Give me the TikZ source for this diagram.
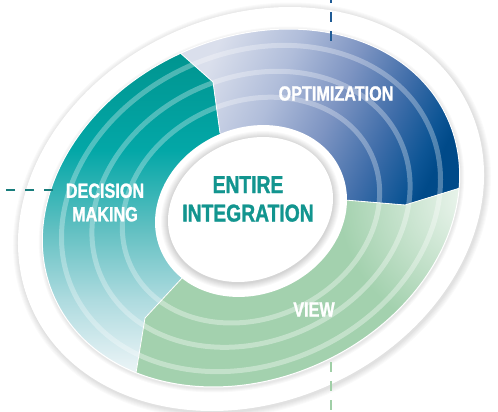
\documentclass[tikz,border=0pt]{standalone}
\usepackage{fontspec}
\newfontfamily\condf[FakeStretch=0.79, FakeBold=1.2]{Liberation Sans Bold}
\definecolor{tW}{HTML}{F3F8FA}
\definecolor{t5}{HTML}{E2F0F3}
\definecolor{t4}{HTML}{AEDBDF}
\definecolor{t3}{HTML}{62C0C2}
\definecolor{t2}{HTML}{03A7A7}
\definecolor{t1}{HTML}{00948F}
\definecolor{b1}{HTML}{DADFEC}
\definecolor{b2}{HTML}{B0BDDA}
\definecolor{b3}{HTML}{7D94C2}
\definecolor{b4}{HTML}{3F6DA9}
\definecolor{b5}{HTML}{0D5595}
\definecolor{b6}{HTML}{004A89}
\definecolor{gM}{HTML}{A3D1AE}
\definecolor{gL}{HTML}{F2F8F3}
\definecolor{txtTeal}{HTML}{12958F}
\definecolor{dBlue}{HTML}{1F5B95}
\definecolor{dTeal}{HTML}{187D7C}
\definecolor{dGreen}{HTML}{A0CFA7}
\pgfdeclareverticalshading{tealsh}{100bp}{color(0bp)=(tW); color(25bp)=(tW); color(28.6bp)=(t5); color(37.3bp)=(t4); color(47.5bp)=(t3); color(59bp)=(t2); color(73.6bp)=(t1); color(100bp)=(t1)}
\pgfdeclarehorizontalshading{bluesh}{100bp}{color(0bp)=(b1); color(26bp)=(b1); color(40bp)=(b2); color(52bp)=(b3); color(63bp)=(b4); color(71.5bp)=(b5); color(75bp)=(b6); color(100bp)=(b6)}
\begin{document}
\begin{tikzpicture}[x=1pt,y=-1pt,
  stripe/.style={draw=white, line width=5pt, draw opacity=0.3},
  sep/.style={draw=white, line width=0.8pt},
  lab/.style={text=white, font=\condf\fontsize{20.5}{23.5}\selectfont, inner sep=0pt, align=center},
  ctr/.style={text=txtTeal, font=\condf\fontsize{24.4}{28.5}\selectfont, inner sep=0pt, align=center},
  dline/.style={line width=2pt, dash pattern=on 9.5pt off 9.5pt}]
\useasboundingbox (0,0) rectangle (498,412);
\fill[white] (0,0) rectangle (498,412);
% outer white disc with soft shadow
\foreach \k in {6,5,4,3,2,1}
  \fill[black, opacity=0.02, shift={(252,210.5)}, rotate=24.8] (0,0) ellipse [x radius={240.7pt+\k pt}, y radius={192.7pt+\k pt}];
\fill[white, shift={(251,209)}, rotate=24.8] (0,0) ellipse [x radius=240.7pt, y radius=192.7pt];
% shadow round the coloured ring
\foreach \k in {4,3,2,1}
  \fill[black, opacity=0.025, shift={(251.5,209.5)}, rotate=24.8] (0,0) ellipse [x radius={216pt+\k pt}, y radius={170pt+\k pt}];
% teal sector
\begin{scope}
  \clip[shift={(251,208)}, rotate=24.8] (0,0) ellipse [x radius=216pt, y radius=170pt];
  \clip (251,208) -- (225,170) -- (220,133) -- (213,82) -- (178,51) -- (120,-10) -- (-20,-20) -- (-20,450) -- (123,450) -- (136,373) -- (145,318) -- (183,277) -- cycle;
  \shade[shading=tealsh] (20,40) rectangle (260,385);
  \draw[stripe, shift={(251,208.5)}, rotate=24.8] (0,0) ellipse [x radius=196pt, y radius=155.2pt];
  \draw[stripe, shift={(251,209.3)}, rotate=24.8] (0,0) ellipse [x radius=164.3pt, y radius=131.7pt];
  \draw[stripe, shift={(251,210.1)}, rotate=24.8] (0,0) ellipse [x radius=132.6pt, y radius=108.2pt];
\end{scope}
% blue sector
\begin{scope}
  \clip[shift={(251,208)}, rotate=24.8] (0,0) ellipse [x radius=216pt, y radius=170pt];
  \clip (251,208) -- (225,170) -- (220,133) -- (213,82) -- (178,51) -- (120,-10) -- (520,-20) -- (520,170) -- (460,188) -- (405,205) -- (345,200) -- cycle;
  \shade[shading=bluesh, shading angle=-25] (175,25) rectangle (462,210);
  \draw[stripe, shift={(251,208.5)}, rotate=24.8] (0,0) ellipse [x radius=196pt, y radius=155.2pt];
  \draw[stripe, shift={(251,209.3)}, rotate=24.8] (0,0) ellipse [x radius=164.3pt, y radius=131.7pt];
  \draw[stripe, shift={(251,210.1)}, rotate=24.8] (0,0) ellipse [x radius=132.6pt, y radius=108.2pt];
\end{scope}
% green sector
\begin{scope}
  \clip[shift={(251,208)}, rotate=24.8] (0,0) ellipse [x radius=216pt, y radius=170pt];
  \clip (251,208) -- (345,200) -- (405,205) -- (460,188) -- (520,170) -- (520,450) -- (123,450) -- (136,373) -- (145,318) -- (183,277) -- cycle;
  \fill[gM] (120,180) rectangle (480,400);
  \shade[inner color=gL, outer color=gM] (478,198) circle (140);
  \draw[stripe, draw opacity=0.35, shift={(251,208.5)}, rotate=24.8] (0,0) ellipse [x radius=196pt, y radius=155.2pt];
  \draw[stripe, draw opacity=0.35, shift={(251,209.3)}, rotate=24.8] (0,0) ellipse [x radius=164.3pt, y radius=131.7pt];
  \draw[stripe, draw opacity=0.35, shift={(251,210.1)}, rotate=24.8] (0,0) ellipse [x radius=132.6pt, y radius=108.2pt];
\end{scope}
% separators and ring edge
\begin{scope}
  \clip[shift={(251,208)}, rotate=24.8] (0,0) ellipse [x radius=216pt, y radius=170pt];
  \draw[sep] (220,133) -- (213,82) -- (178,51) -- (150,25);
  \draw[sep] (345,200) -- (405,205) -- (460,188) -- (480,182);
  \draw[sep] (183,277) -- (145,318) -- (136,373) -- (133,392);
\end{scope}
\draw[white, line width=1pt, shift={(251,208)}, rotate=24.8] (0,0) ellipse [x radius=216pt, y radius=170pt];
% hole
\fill[white, shift={(251,211)}, rotate=24.8] (0,0) ellipse [x radius=98.5pt, y radius=83pt];
% inner disc with shadow
\foreach \k in {7,6,5,4,3,2,1}
  \fill[black, opacity=0.022, shift={(250.5,210.5)}, rotate=24.8] (0,0) ellipse [x radius={85pt+\k pt}, y radius={69.5pt+\k pt}];
\fill[white, shift={(250.5,209.5)}, rotate=24.8] (0,0) ellipse [x radius=85pt, y radius=69.5pt];
% labels
\node[lab] (opt) at (336,93.5) {OPTIMIZATION};
\node[lab] (dec) at (105,202.5) {DECISION\\MAKING};
\node[lab] (view) at (314,309.5) {VIEW};
\node[ctr] (ent) at (248,199) {ENTIRE\\INTEGRATION};
% dashed leaders
\coordinate (topA) at (331,0);
\coordinate (topB) at (331,41);
\coordinate (leftA) at (3,190);
\coordinate (leftB) at (53,190);
\coordinate (botA) at (331,412);
\coordinate (botB) at (331,362);
\draw[dline, dBlue] (topB) -- (topA);
\draw[dline, dTeal] (leftB) -- (leftA);
\draw[dline, dGreen] (botB) -- (botA);
\end{tikzpicture}
\end{document}
